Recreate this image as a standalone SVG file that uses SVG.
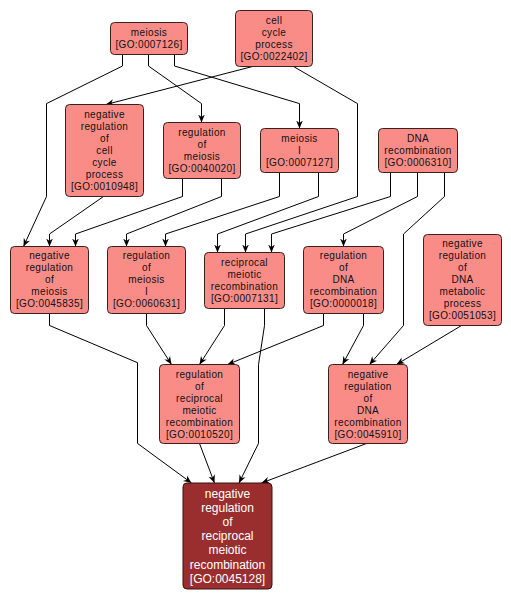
<svg xmlns="http://www.w3.org/2000/svg" width="511" height="602" viewBox="0 0 511 602">
<style>
.n rect{fill:#FA8C88;stroke:#3a2020;stroke-width:1}
.n text{font-family:"Liberation Sans",Arial,sans-serif;font-size:10px;letter-spacing:0.35px;fill:#111;text-anchor:middle}
.f rect{fill:#9A2E2E;stroke:#3a1010;stroke-width:1}
.f text{font-family:"Liberation Sans",Arial,sans-serif;font-size:12px;fill:#fff;text-anchor:middle}
.e polyline{fill:none;stroke:#000;stroke-width:1;marker-end:url(#ah)}
</style>
<defs>
<marker id="ah" viewBox="0 0 10 10" refX="10" refY="5" markerWidth="8" markerHeight="8" markerUnits="userSpaceOnUse" orient="auto">
<path d="M0,0.8 L10,5 L0,9.2 L3,5 z" fill="#000"/>
</marker>
</defs>
<rect width="511" height="602" fill="#fff"/>
<g id="connectors" class="e">
<polyline points="122.5,54.5 122.5,66 46.5,103.6 46.5,196.5 23.5,246.5"/>
<polyline points="148.5,54.5 148.5,66 201.5,103.6 201.5,122.5"/>
<polyline points="174.5,54.5 174.5,66 299.5,103.6 299.5,128.5"/>
<polyline points="252.5,66.5 106,104.5"/>
<polyline points="293.5,66.5 357.5,103.6 357.5,196.5 245.5,234 245.5,252.5"/>
<polyline points="103.5,196.5 49.5,234 49.5,246.5"/>
<polyline points="182.5,178.5 182.5,196.5 75.5,234 75.5,246.5"/>
<polyline points="221.5,178.5 221.5,196.5 126.5,234 126.5,246.5"/>
<polyline points="279.5,172.5 279.5,196.5 165.5,234 165.5,246.5"/>
<polyline points="318.5,172.5 318.5,196.5 217.5,234 217.5,252.5"/>
<polyline points="390.5,172.5 390.5,196.5 271.5,234 271.5,252.5"/>
<polyline points="417.5,172.5 417.5,196.5 343.5,234 343.5,246.5"/>
<polyline points="444.5,172.5 444.5,196.5 403.5,234 403.5,325.5 369.5,364.5"/>
<polyline points="49.5,313.5 49.5,325.5 137.5,362.7 137.5,443.4 191.5,483"/>
<polyline points="146.5,313.5 146.5,325.5 171.5,364.5"/>
<polyline points="224.5,308.5 224.5,325.5 199.5,364.5"/>
<polyline points="264.5,308.5 264.5,325.5 258.5,364.7 258.5,443.4 239,483"/>
<polyline points="323.5,313.5 323.5,325.5 227.5,364.5"/>
<polyline points="363.5,313.5 363.5,325.5 342.5,364.5"/>
<polyline points="461.5,325.5 396.5,364.5"/>
<polyline points="199.5,443.5 214.5,483"/>
<polyline points="366.5,443.5 261.5,483"/>
</g>
<g id="GO0007126" class="n"><rect x="110.5" y="22.5" width="77" height="32" rx="4"/>
<text x="149" y="35.5">meiosis</text><text x="149" y="47.5">[GO:0007126]</text></g>
<g id="GO0022402" class="n"><rect x="235.5" y="10.5" width="77" height="56" rx="4"/>
<text x="274" y="24">cell</text><text x="274" y="36">cycle</text><text x="274" y="48">process</text><text x="274" y="60">[GO:0022402]</text></g>
<g id="GO0010948" class="n"><rect x="65.5" y="104.5" width="78" height="92" rx="4"/>
<text x="104.5" y="118">negative</text><text x="104.5" y="130">regulation</text><text x="104.5" y="142">of</text><text x="104.5" y="154">cell</text><text x="104.5" y="166">cycle</text><text x="104.5" y="178">process</text><text x="104.5" y="190">[GO:0010948]</text></g>
<g id="GO0040020" class="n"><rect x="163.5" y="122.5" width="77" height="56" rx="4"/>
<text x="202" y="135.8">regulation</text><text x="202" y="147.8">of</text><text x="202" y="159.8">meiosis</text><text x="202" y="171.8">[GO:0040020]</text></g>
<g id="GO0007127" class="n"><rect x="260.5" y="128.5" width="78" height="44" rx="4"/>
<text x="299.5" y="142">meiosis</text><text x="299.5" y="154">I</text><text x="299.5" y="166">[GO:0007127]</text></g>
<g id="GO0006310" class="n"><rect x="378.5" y="128.5" width="79" height="44" rx="4"/>
<text x="418" y="142">DNA</text><text x="418" y="154">recombination</text><text x="418" y="166">[GO:0006310]</text></g>
<g id="GO0045835" class="n"><rect x="10.5" y="246.5" width="78" height="67" rx="4"/>
<text x="49.5" y="259.3">negative</text><text x="49.5" y="271.3">regulation</text><text x="49.5" y="283.3">of</text><text x="49.5" y="295.3">meiosis</text><text x="49.5" y="307.3">[GO:0045835]</text></g>
<g id="GO0060631" class="n"><rect x="107.5" y="246.5" width="78" height="67" rx="4"/>
<text x="146.5" y="259.3">regulation</text><text x="146.5" y="271.3">of</text><text x="146.5" y="283.3">meiosis</text><text x="146.5" y="295.3">I</text><text x="146.5" y="307.3">[GO:0060631]</text></g>
<g id="GO0007131" class="n"><rect x="204.5" y="252.5" width="80" height="56" rx="4"/>
<text x="244.5" y="265.9">reciprocal</text><text x="244.5" y="277.9">meiotic</text><text x="244.5" y="289.9">recombination</text><text x="244.5" y="301.9">[GO:0007131]</text></g>
<g id="GO0000018" class="n"><rect x="303.5" y="246.5" width="80" height="67" rx="4"/>
<text x="343.5" y="259.3">regulation</text><text x="343.5" y="271.3">of</text><text x="343.5" y="283.3">DNA</text><text x="343.5" y="295.3">recombination</text><text x="343.5" y="307.3">[GO:0000018]</text></g>
<g id="GO0051053" class="n"><rect x="423.5" y="234.5" width="78" height="91" rx="4"/>
<text x="462.5" y="247.4">negative</text><text x="462.5" y="259.4">regulation</text><text x="462.5" y="271.4">of</text><text x="462.5" y="283.4">DNA</text><text x="462.5" y="295.4">metabolic</text><text x="462.5" y="307.4">process</text><text x="462.5" y="319.4">[GO:0051053]</text></g>
<g id="GO0010520" class="n"><rect x="159.5" y="364.5" width="80" height="79" rx="4"/>
<text x="199.5" y="377.5">regulation</text><text x="199.5" y="389.5">of</text><text x="199.5" y="401.5">reciprocal</text><text x="199.5" y="413.5">meiotic</text><text x="199.5" y="425.5">recombination</text><text x="199.5" y="437.5">[GO:0010520]</text></g>
<g id="GO0045910" class="n"><rect x="328.5" y="364.5" width="79" height="79" rx="4"/>
<text x="368" y="377.5">negative</text><text x="368" y="389.5">regulation</text><text x="368" y="401.5">of</text><text x="368" y="413.5">DNA</text><text x="368" y="425.5">recombination</text><text x="368" y="437.5">[GO:0045910]</text></g>
<g id="GO0045128" class="f"><rect x="183" y="483" width="89" height="106" rx="4"/>
<text x="227.5" y="498">negative</text><text x="227.5" y="512.1">regulation</text><text x="227.5" y="526.2">of</text><text x="227.5" y="540.3">reciprocal</text><text x="227.5" y="554.4">meiotic</text><text x="227.5" y="568.5">recombination</text><text x="227.5" y="582.6">[GO:0045128]</text></g>
</svg>
